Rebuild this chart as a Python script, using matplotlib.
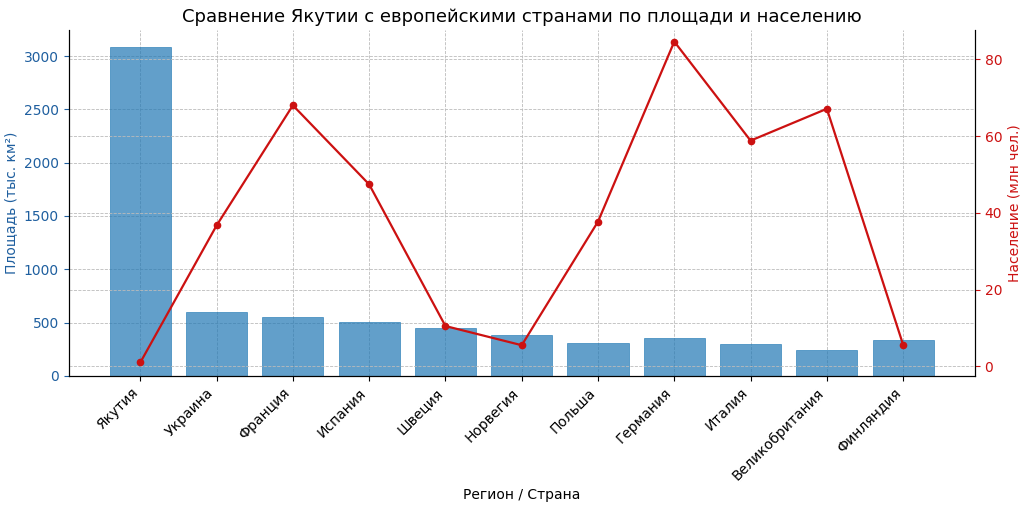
import matplotlib.pyplot as plt
from matplotlib.ticker import MultipleLocator

regions = ['Якутия', 'Украина', 'Франция', 'Испания', 'Швеция', 'Норвегия',
           'Польша', 'Германия', 'Италия', 'Великобритания', 'Финляндия']
area = [3083, 603, 552, 506, 450, 385, 312, 357, 301, 243, 338]
population = [1.0, 36.7, 68.0, 47.4, 10.5, 5.5, 37.7, 84.6, 58.8, 67.1, 5.6]

fig, ax1 = plt.subplots(figsize=(10.24, 5.08), dpi=100)

x = range(len(regions))
ax1.bar(x, area, color='#1f77b4', alpha=0.7, edgecolor='#1f77b4', linewidth=0.6)
ax1.set_ylabel('Площадь (тыс. км²)', color='#1f5f9f', fontsize=10)
ax1.tick_params(axis='y', colors='#1f5f9f', labelsize=10)
ax1.set_xticks(list(x))
ax1.set_xticklabels(regions, rotation=45, ha='right', fontsize=10)
ax1.set_xlabel('Регион / Страна', fontsize=10)
ax1.set_ylim(0, 3240)
ax1.grid(True, linestyle='--', linewidth=0.6, color='#bbbbbb')
ax1.set_axisbelow(True)
ax1.spines['top'].set_visible(False)

ax2 = ax1.twinx()
ax2.plot(x, population, color='#cc1111', marker='o', markersize=4.5, linewidth=1.6)
ax2.set_ylabel('Население (млн чел.)', color='#cc1111', fontsize=10)
ax2.tick_params(axis='y', colors='#cc1111', labelsize=10)
ax2.yaxis.set_major_locator(MultipleLocator(20))
ax2.set_ylim(-2.5, 87.5)
ax2.grid(True, axis='y', linestyle='--', linewidth=0.6, color='#bbbbbb')
ax2.spines['top'].set_visible(False)

ax1.set_title('Сравнение Якутии с европейскими странами по площади и населению', fontsize=13)
fig.subplots_adjust(left=0.067, right=0.952, top=0.94, bottom=0.26)
fig.savefig('out.png')
